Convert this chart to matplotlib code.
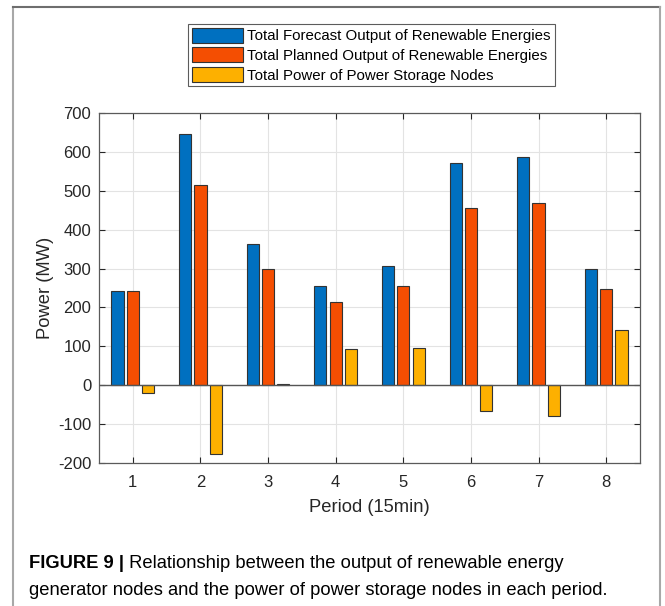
import matplotlib
matplotlib.use("Agg")
import matplotlib.pyplot as plt
import numpy as np
from matplotlib.lines import Line2D
from matplotlib.patches import Patch

plt.rcParams['font.family'] = ['Liberation Sans', 'DejaVu Sans']
plt.rcParams['axes.unicode_minus'] = False

periods = [1, 2, 3, 4, 5, 6, 7, 8]
forecast = [242, 646, 363, 256, 306, 571, 586, 300]
planned = [242, 516, 298, 215, 254, 456, 468, 247]
storage = [-20, -176, 2, 92, 95, -67, -79, 143]
series_names = ["Total Forecast Output of Renewable Energies",
                "Total Planned Output of Renewable Energies",
                "Total Power of Power Storage Nodes"]
colors = ["#0070C0", "#F44E02", "#FDB000"]
yticks = [-200, -100, 0, 100, 200, 300, 400, 500, 600, 700]

fig = plt.figure(figsize=(6.65, 6.06), dpi=100)
ax = fig.add_axes([99/665, 1-463/606, 541/665, 350/606])

x = np.array(periods, dtype=float)
w = 0.18
off = 0.226
for vals, c, dx in zip([forecast, planned, storage], colors, [-off, 0, off]):
    ax.bar(x + dx, vals, width=w, color=c, edgecolor="#333333", linewidth=0.8, zorder=3)

ax.axhline(0, color="#555555", linewidth=1.0, zorder=4)
ax.set_xlim(0.5, 8.5)
ax.set_ylim(-200, 700)
ax.set_xticks(periods)
ax.set_yticks(yticks)
ax.grid(True, color="#e3e3e3", linewidth=0.8, zorder=0)
ax.tick_params(direction="in", top=True, right=True, labelsize=12,
               colors="#262626", length=4, width=0.8)
ax.tick_params(axis="y", pad=5.5)
ax.tick_params(axis="x", pad=8.8)
for s in ax.spines.values():
    s.set_color("#5a5a5a")
    s.set_linewidth(0.9)
ax.set_xlabel("Period (15min)", fontsize=13.2, color="#262626", labelpad=6.5)
ax.set_ylabel("Power (MW)", fontsize=13.2, color="#262626", labelpad=3)

handles = [Patch(facecolor=c, edgecolor="#333333", linewidth=0.8) for c in colors]
leg = fig.legend(handles, series_names, loc="upper left",
                 bbox_to_anchor=(188/665, 1-24/606), fontsize=10.8,
                 frameon=True, fancybox=False, edgecolor="#333333",
                 handlelength=3.4, handleheight=1.15, labelspacing=0.28,
                 handletextpad=0.3, borderpad=0.25, borderaxespad=0)
leg.get_frame().set_linewidth(0.8)

# figure frame
fc = "#a8a8a8"
yt = 1 - 7/606
xl = 12.7/665
xr = 660/665
fig.add_artist(Line2D([xl, xl], [0, yt], color=fc, lw=1.5, transform=fig.transFigure))
fig.add_artist(Line2D([xl, xr], [yt, yt], color="#6e6e6e", lw=1.5, transform=fig.transFigure))
fig.add_artist(Line2D([xr, xr], [0, yt], color=fc, lw=1.5, transform=fig.transFigure))

t1 = fig.text(29/665, 1-568/606, "FIGURE 9 |", fontsize=13.2, fontweight="bold", va="baseline")
fig.add_artist(plt.Annotation(" Relationship between the output of renewable energy",
                              xy=(1, 0), xycoords=t1, va="bottom", fontsize=13.2,
                              xytext=(0, 0), textcoords="offset points"))
fig.text(29/665, 1-595/606, "generator nodes and the power of power storage nodes in each period.",
         fontsize=13.2, va="baseline")

fig.savefig("out.png", dpi=100)
